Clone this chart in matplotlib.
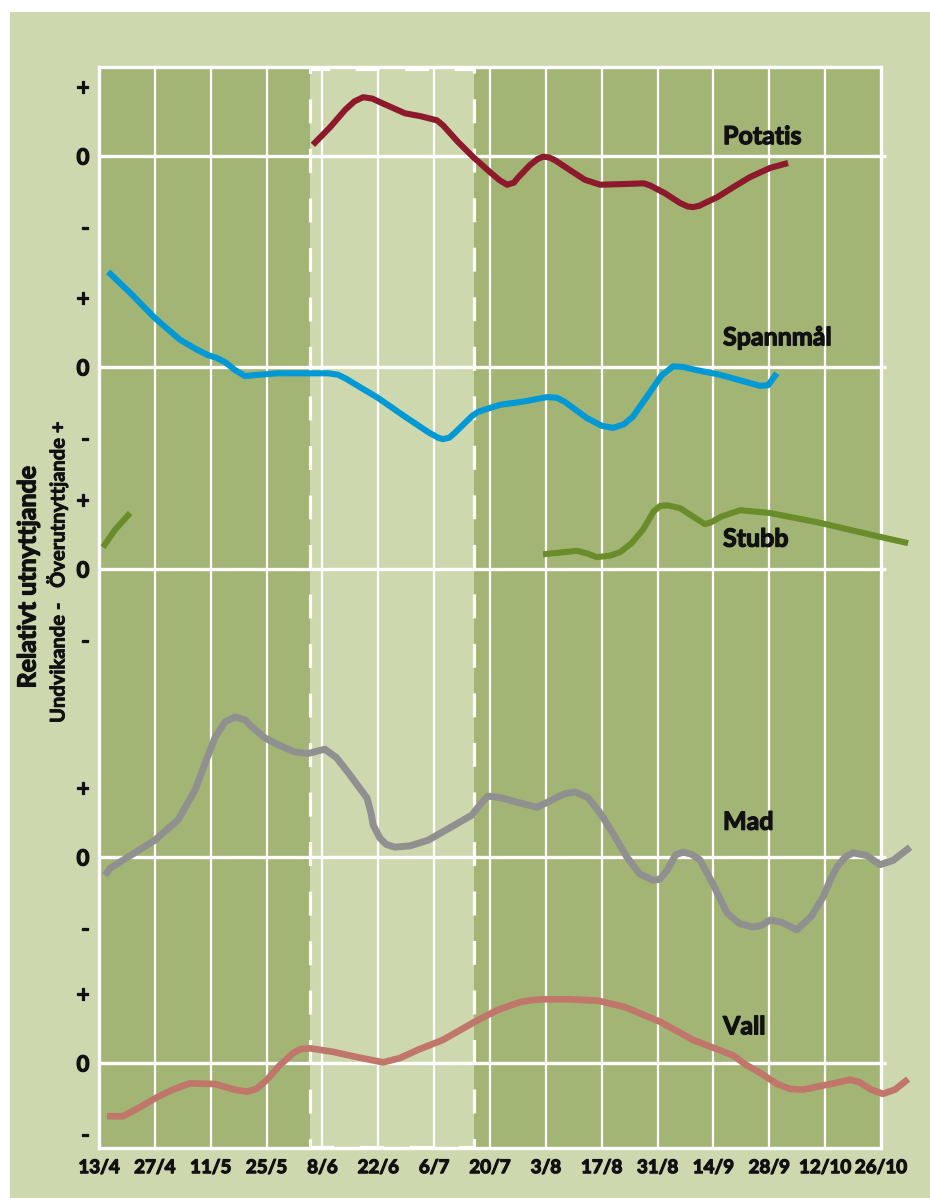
import matplotlib
matplotlib.use('Agg')
import matplotlib.pyplot as plt
import matplotlib.patheffects as pe
from matplotlib.patches import Rectangle

# ---------------- data ----------------
tick_labels = ['13/4', '27/4', '11/5', '25/5', '8/6', '22/6', '6/7', '20/7',
               '3/8', '17/8', '31/8', '14/9', '28/9', '12/10', '26/10']
tick_days = [0, 14, 28, 42, 56, 70, 84, 98, 112, 126, 140, 154, 168, 182, 196]

series_names = ['Potatis', 'Spannmål', 'Stubb', 'Mad', 'Vall']

potatis_x = [53.6, 57.9, 61.7, 64.0, 66.2, 68.5, 70.4, 76.7, 80.5, 84.7, 86.2, 90.0,
             93.7, 98.0, 100.5, 102.3, 104.0, 105.0, 108.0, 110.0, 111.3, 112.8, 114.3,
             118.0, 121.8, 125.6, 131.8, 136.5, 138.1, 141.8, 145.6, 147.5, 148.9,
             150.5, 151.9, 154.9, 159.4, 163.2, 168.2, 172.7]
potatis_y = [0.16, 0.41, 0.66, 0.78, 0.84, 0.82, 0.77, 0.61, 0.57, 0.51, 0.44, 0.20,
             -0.01, -0.23, -0.35, -0.41, -0.38, -0.31, -0.13, -0.04, -0.01, -0.02, -0.06,
             -0.20, -0.34, -0.41, -0.40, -0.39, -0.42, -0.53, -0.67, -0.72, -0.73,
             -0.71, -0.67, -0.59, -0.43, -0.30, -0.17, -0.10]

spannmal_x = [2.3, 7.8, 14.0, 20.3, 24.5, 27.3, 29.5, 31.6, 34.0, 36.6, 40.0, 44.9,
              52.4, 57.5, 59.9, 62.0, 64.9, 69.9, 76.2, 82.5, 85.0, 86.2, 87.8, 89.2,
              91.7, 93.5, 95.0, 100.5, 106.8, 112.3, 114.8, 116.8, 122.3, 126.0, 128.8,
              131.5, 133.8, 138.1, 141.0, 143.9, 146.5, 149.4, 155.6, 165.7, 167.7, 169.9]
spannmal_y = [1.36, 1.06, 0.70, 0.39, 0.25, 0.17, 0.13, 0.07, -0.04, -0.13, -0.11,
              -0.09, -0.09, -0.09, -0.11, -0.17, -0.27, -0.44, -0.69, -0.93, -1.01,
              -1.03, -1.01, -0.94, -0.80, -0.70, -0.64, -0.54, -0.49, -0.43, -0.44,
              -0.50, -0.73, -0.84, -0.87, -0.82, -0.71, -0.36, -0.12, 0.01, 0.00,
              -0.04, -0.11, -0.27, -0.26, -0.09]

stubb1_x = [1.0, 4.0, 7.8]
stubb1_y = [0.31, 0.56, 0.80]
stubb2_x = [111.3, 119.8, 122.5, 124.8, 128.0, 130.6, 133.5, 136.3, 139.0, 140.6, 142.5,
            145.6, 151.9, 153.5, 156.0, 160.7, 168.2, 180.7, 195.7, 202.8]
stubb2_y = [0.21, 0.26, 0.22, 0.17, 0.19, 0.24, 0.37, 0.56, 0.82, 0.90, 0.91,
            0.87, 0.64, 0.67, 0.75, 0.84, 0.80, 0.66, 0.46, 0.37]

mad_x = [1.5, 2.8, 14.0, 19.8, 24.1, 27.0, 29.1, 31.6, 34.1, 36.6, 38.3, 41.6, 45.0,
         49.1, 52.5, 56.6, 59.5, 62.4, 67.2, 68.2, 68.7, 70.4, 72.0, 74.2, 78.0, 82.5,
         88.0, 93.5, 95.5, 97.5, 100.5, 104.3, 109.8, 113.0, 116.5, 119.3, 122.5, 125.6,
         129.0, 132.3, 135.5, 138.8, 140.5, 142.4, 144.5, 146.4, 148.5, 150.6, 154.0,
         157.4, 160.5, 163.9, 166.0, 168.2, 171.0, 174.9, 178.5, 181.5, 183.5, 185.0,
         187.0, 189.0, 192.5, 195.7, 199.0, 203.3]
mad_y = [-0.26, -0.16, 0.24, 0.53, 0.96, 1.40, 1.71, 1.93, 2.00, 1.96, 1.86, 1.70, 1.60,
         1.50, 1.48, 1.54, 1.42, 1.21, 0.84, 0.62, 0.46, 0.27, 0.18, 0.14, 0.16, 0.24,
         0.42, 0.60, 0.75, 0.87, 0.85, 0.79, 0.71, 0.80, 0.90, 0.93, 0.85, 0.63,
         0.32, 0.00, -0.24, -0.33, -0.32, -0.19, 0.03, 0.07, 0.04, -0.04, -0.40,
         -0.80, -0.95, -1.00, -0.98, -0.90, -0.93, -1.04, -0.85, -0.57, -0.30, -0.14,
         0.00, 0.06, 0.02, -0.11, -0.05, 0.14]

vall_x = [2.0, 6.0, 10.3, 14.5, 18.5, 22.8, 29.1, 34.0, 37.1, 39.5, 42.1, 45.0, 48.6,
          50.5, 52.9, 58.6, 65.0, 71.2, 75.4, 80.0, 86.2, 94.2, 100.0, 105.5, 108.5,
          111.8, 118.0, 125.1, 131.8, 140.6, 148.9, 158.9, 162.0, 165.7, 170.0, 173.2,
          176.5, 182.5, 188.2, 190.5, 193.5, 196.5, 199.5, 202.8]
vall_y = [-0.76, -0.76, -0.63, -0.49, -0.38, -0.29, -0.30, -0.38, -0.41, -0.37, -0.24,
          -0.05, 0.14, 0.20, 0.21, 0.16, 0.08, 0.01, 0.07, 0.19, 0.33, 0.59, 0.76, 0.87,
          0.90, 0.91, 0.91, 0.89, 0.80, 0.59, 0.33, 0.11, -0.02, -0.14, -0.30, -0.37,
          -0.38, -0.31, -0.24, -0.27, -0.38, -0.44, -0.38, -0.23]

# ---------------- layout / style ----------------
FONT = ['Lato', 'DejaVu Sans']
plt.rcParams['font.family'] = FONT
LIGHT = '#cdd8ae'
DARK = '#a3b574'
band_offsets = [14.171, 11.157, 8.271, 4.157, 1.214]
label_x = 156.4
label_dy = [0.17, 0.31, 0.32, 0.39, 0.41]
colors = ['#8c1a2c', '#0099d6', '#6a8c2b', '#909090', '#c0766a']
widths = [4.4, 4.4, 4.4, 5.0, 4.8]
YMAX = 15.447
TXT = '#111111'
W = 'bold'
THICK = [pe.withStroke(linewidth=0.9, foreground=TXT)]

fig = plt.figure(figsize=(9.3, 11.98), dpi=100, facecolor='white')
fig.patches.append(Rectangle((10 / 930, 0), 1, 1 - 12 / 1198, transform=fig.transFigure,
                             facecolor=LIGHT, edgecolor='none', zorder=-10))
ax = fig.add_axes([99 / 930, 50 / 1198, 782 / 930, (1148 - 66.7) / 1198])
ax.set_facecolor(DARK)
ax.set_xlim(0, 196)
ax.set_ylim(0, YMAX)

# light period
ax.axvspan(52.9, 94.0, color=LIGHT, zorder=0.5, lw=0)
# gridlines
for d in tick_days[1:-1]:
    ax.axvline(d, color='white', lw=1.6, zorder=1)
# zero lines
for off in band_offsets:
    ax.plot([0, 197.2], [off, off], color='white', lw=2.4, zorder=1.2,
            clip_on=False, solid_capstyle='butt')
# dashed border of light period
ax.add_patch(Rectangle((52.9, 0.02), 94.0 - 52.9, 15.41 - 0.02, fill=False,
                       edgecolor='white', lw=2.3, ls=(0, (7.5, 8.0)), zorder=1.5))

# series
kw = dict(zorder=3, clip_on=False, solid_joinstyle='round', solid_capstyle='butt')
ax.plot(potatis_x, [v + band_offsets[0] for v in potatis_y], color=colors[0],
        lw=widths[0], **kw)
ax.plot(spannmal_x, [v + band_offsets[1] for v in spannmal_y], color=colors[1],
        lw=widths[1], **kw)
ax.plot(stubb1_x, [v + band_offsets[2] for v in stubb1_y], color=colors[2],
        lw=widths[2], **kw)
ax.plot(stubb2_x, [v + band_offsets[2] for v in stubb2_y], color=colors[2],
        lw=widths[2], **kw)
ax.plot(mad_x, [v + band_offsets[3] for v in mad_y], color=colors[3],
        lw=widths[3], **kw)
ax.plot(vall_x, [v + band_offsets[4] for v in vall_y], color=colors[4],
        lw=widths[4], **kw)

for name, off, dy in zip(series_names, band_offsets, label_dy):
    ax.text(label_x, off + dy, name, fontsize=18, fontweight=W, color=TXT,
            va='baseline', ha='left', zorder=4, path_effects=THICK)

# spines
for s in ax.spines.values():
    s.set_color('white')
    s.set_linewidth(2.4)
    s.set_zorder(2)

# ticks
ax.set_xticks(tick_days)
ax.set_xticklabels(tick_labels, fontsize=13.5, fontweight=W, color=TXT)
yt, yl = [], []
for off in band_offsets:
    yt += [off + 1, off, off - 1]
    yl += ['+', '0', '-']
ax.set_yticks(yt)
ax.set_yticklabels(yl, fontsize=16, fontweight=W, color=TXT)
for t in ax.get_xticklabels() + ax.get_yticklabels():
    t.set_path_effects(THICK)
ax.tick_params(axis='both', length=0)
ax.tick_params(axis='x', pad=8)
ax.tick_params(axis='y', pad=7)

fig.text(28 / 930, 1 - 577 / 1198, 'Relativt utnyttjande', rotation=90, fontsize=18,
         fontweight=W, ha='center', va='center', color=TXT, path_effects=THICK)
fig.text(57 / 930, 1 - 572 / 1198, 'Undvikande -   Överutnyttjande +', rotation=90,
         fontsize=14.5, fontweight=W, ha='center', va='center', color=TXT,
         path_effects=[pe.withStroke(linewidth=0.6, foreground=TXT)])

fig.savefig('out.png', dpi=100, facecolor=fig.get_facecolor())
